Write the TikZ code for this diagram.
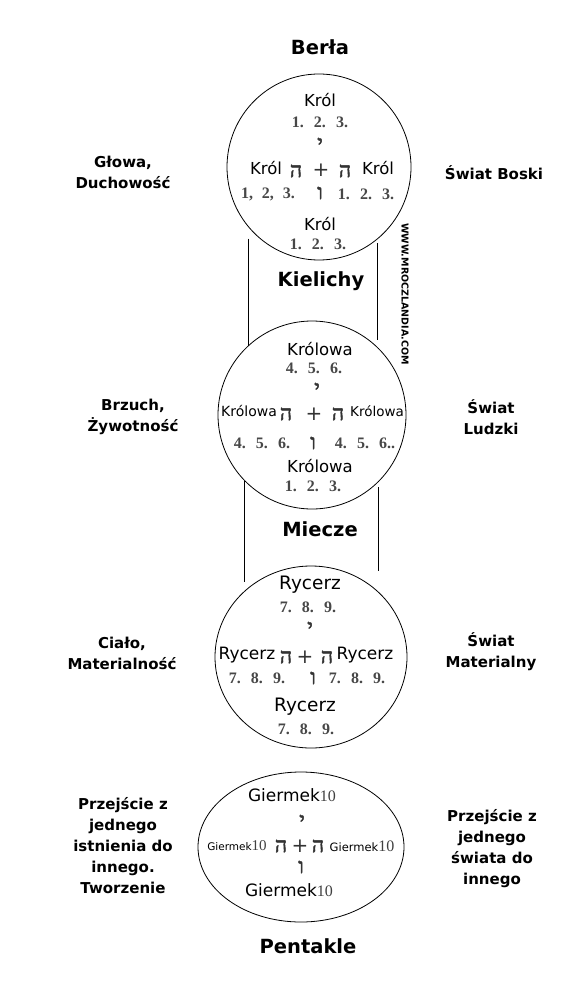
\documentclass[tikz,border=0pt]{standalone}
\usepackage{fontspec}
\usetikzlibrary{shapes.geometric}

\newfontfamily\dejavu{DejaVu Sans}
\newfontfamily\hebfont[Script=Hebrew,FakeBold=2.5]{Liberation Serif}
\newfontfamily\numfont[WordSpace=2.2]{Liberation Serif}
\newcommand\gten[1]{{\numfont\fontsize{#1}{#1}\selectfont\color{black!75}10}}

\tikzset{
  suit/.style={font=\dejavu\bfseries\fontsize{19.5}{22}\selectfont},
  realm/.style={font=\dejavu\bfseries\fontsize{15}{21}\selectfont,align=center},
  court/.style={draw,ellipse,inner sep=0pt,line width=0.8pt},
  rank/.style={font=\dejavu\fontsize{#1}{#1}\selectfont},
  rank/.default=16.5,
  num/.style={font=\numfont\bfseries\fontsize{16}{18}\selectfont,text=black!72},
  heb/.style={font=\hebfont\fontsize{21}{22}\selectfont,text=black!80},
  plus/.style={font=\dejavu\fontsize{20}{20}\selectfont,text=black!80},
}

\begin{document}
\begin{tikzpicture}[x=1pt,y=-1pt]
\useasboundingbox (0,0) rectangle (586,1000);

% Circles
\node[court,minimum width=184pt,minimum height=186pt] (krol) at (319,167) {};
\node[court,minimum width=188pt,minimum height=188pt] (krolowa) at (312,415) {};
\node[court,minimum width=192pt,minimum height=182pt] (rycerz) at (311,657) {};
\node[court,minimum width=206pt,minimum height=150pt] (giermek) at (301,847) {};

% Side lines
\draw[line width=0.8pt,shorten <=12pt] (krol.-140) -- (krol.-140 |- krolowa.133);
\draw[line width=0.8pt,shorten <=4pt,shorten >=7pt] (krol.-51) -- (krol.-51 |- krolowa.46);
\draw[line width=0.8pt,shorten >=8pt] (krolowa.-136) -- (krolowa.-136 |- rycerz.134);
\draw[line width=0.8pt,shorten <=5pt,shorten >=20pt] (krolowa.-45) -- (krolowa.-45 |- rycerz.45);

% Suit names
\node[suit] (berla) at (320,47) {Berła};
\node[suit] (kielichy) at (321,281) {Kielichy};
\node[suit] (miecze) at (320,529) {Miecze};
\node[suit] (pentakle) at (308,946) {Pentakle};

% Left side
\node[realm] (glowa) at (123,172) {Głowa,\\Duchowość};
\node[realm] (brzuch) at (133,417) {Brzuch,\\Żywotność};
\node[realm] (cialo) at (122,653) {Ciało,\\Materialność};
\node[realm] (istnienie) at (123,846) {Przejście z\\jednego\\istnienia do\\innego.\\Tworzenie};

% Right side
\node[realm] (boski) at (494,173) {Świat Boski};
\node[realm] (ludzki) at (491,417) {Świat\\Ludzki};
\node[realm] (materialny) at (491,652) {Świat\\Materialny};
\node[realm] (swiat) at (492,849) {Przejście z\\jednego\\świata do\\innego};

% Watermark
\node[rotate=-90,font=\dejavu\bfseries\fontsize{9.5}{10}\selectfont] (www) at (405,294) {WWW.MROCZLANDIA.COM};

% Krol
\node[rank] (kr-top) at (320,100) {Król};
\node[num] (kr-top-num) at (320,122) {1. 2. 3.};
\node[heb] (kr-yod) at (320,144) {י};
\node[rank] (kr-left) at (266,168) {Król};
\node[heb] (kr-he-l) at (296,171) {ה};
\node[plus] (kr-plus) at (321,170) {+};
\node[heb] (kr-he-r) at (345,171) {ה};
\node[rank] (kr-right) at (378,168) {Król};
\node[num] (kr-left-num) at (268,194) {1, 2, 3.};
\node[heb] (kr-vav) at (320,193) {ו};
\node[num] (kr-right-num) at (366,194) {1. 2. 3.};
\node[rank] (kr-bot) at (320,224) {Król};
\node[num] (kr-bot-num) at (318,244) {1. 2. 3.};

% Krolowa
\node[rank] (kw-top) at (320,349) {Królowa};
\node[num] (kw-top-num) at (314,368) {4. 5. 6.};
\node[heb] (kw-yod) at (317,389) {י};
\node[rank=14] (kw-left) at (249,411) {Królowa};
\node[heb] (kw-he-l) at (286,414) {ה};
\node[plus] (kw-plus) at (314,414) {+};
\node[heb] (kw-he-r) at (338,414) {ה};
\node[rank=13.5] (kw-right) at (377,411) {Królowa};
\node[num] (kw-left-num) at (262,443) {4. 5. 6.};
\node[heb] (kw-vav) at (313,443) {ו};
\node[num] (kw-right-num) at (365,443) {4. 5. 6..};
\node[rank] (kw-bot) at (320,466) {Królowa};
\node[num] (kw-bot-num) at (313,486) {1. 2. 3.};

% Rycerz
\node[rank=18.5] (ry-top) at (310,585) {Rycerz};
\node[num] (ry-top-num) at (308,607) {7. 8. 9.};
\node[heb] (ry-yod) at (310,628) {י};
\node[rank=17] (ry-left) at (247,655) {Rycerz};
\node[heb] (ry-he-l) at (286,657) {ה};
\node[plus] (ry-plus) at (305,657) {+};
\node[heb] (ry-he-r) at (327,657) {ה};
\node[rank=17] (ry-right) at (365,655) {Rycerz};
\node[num] (ry-left-num) at (257,678) {7. 8. 9.};
\node[heb] (ry-vav) at (313,678) {ו};
\node[num] (ry-right-num) at (357,678) {7. 8. 9.};
\node[rank=18.5] (ry-bot) at (305,707) {Rycerz};
\node[num] (ry-bot-num) at (306,729) {7. 8. 9.};

% Giermek
\node[rank=17] (gi-top) at (292,795) {Giermek\gten{16}};
\node[heb] (gi-yod) at (302,821) {י};
\node[rank=10.5,inner sep=0pt] (gi-left) at (237,846) {Giermek\gten{15}};
\node[heb] (gi-he-l) at (281,846) {ה};
\node[plus] (gi-plus) at (300,846) {+};
\node[heb] (gi-he-r) at (318,846) {ה};
\node[rank=11.5,inner sep=0pt] (gi-right) at (362,846) {Giermek\gten{16}};
\node[heb] (gi-vav) at (301,867) {ו};
\node[rank=17] (gi-bot) at (289,890) {Giermek\gten{16}};

\end{tikzpicture}
\end{document}
